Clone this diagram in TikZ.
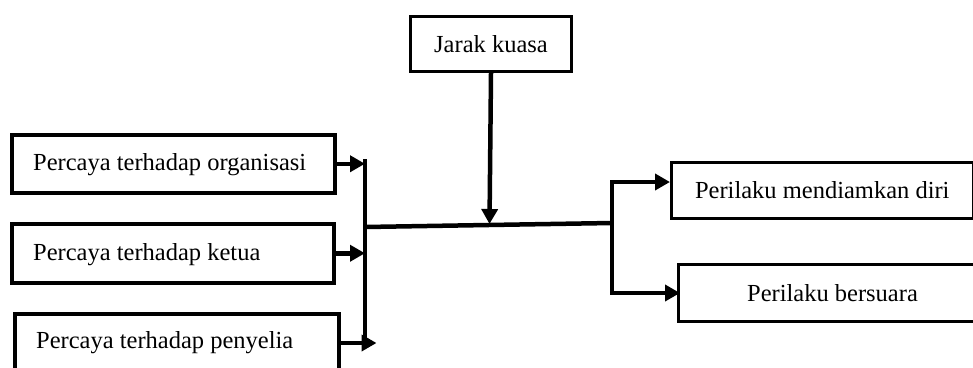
\documentclass[tikz,border=0pt]{standalone}
\usepackage{fontspec}
\setmainfont{Liberation Serif}
\usetikzlibrary{arrows.meta}
\begin{document}
\begin{tikzpicture}[x=1pt,y=-1pt,
  txt/.style={font=\fontsize{24.5}{28}\selectfont, inner sep=0pt},
  box/.style={draw=black, anchor=north west, inner sep=0pt, txt},
  leftbox/.style={box, line width=3.5pt},
  rightbox/.style={box, line width=2.5pt, align=center},
  conn/.style={line width=4.5pt, draw=black},
  tip/.style={-{Triangle[length=15pt,width=16pt]}}
]
\useasboundingbox (0,0) rectangle (973,367);

% independent variables (frames, then left-aligned labels)
\node[leftbox, minimum width=323pt, minimum height=58pt] (b1) at (10,133) {};
\node[leftbox, minimum width=322pt, minimum height=59pt] (b2) at (10,222) {};
\node[leftbox, minimum width=324pt, minimum height=56pt] (b3) at (13,312) {};
\node[txt, anchor=west] (t1) at ([xshift=23pt,yshift=-1pt]b1.west) {Percaya terhadap organisasi};
\node[txt, anchor=west] (t2) at ([xshift=23pt,yshift=-1pt]b2.west) {Percaya terhadap ketua};
\node[txt, anchor=west] (t3) at ([xshift=23pt,yshift=-1pt]b3.west) {Percaya terhadap penyelia};

% moderator
\node[rightbox, line width=3pt, minimum width=161pt, minimum height=55pt] (jk) at (409,15) {Jarak kuasa};

% outcomes
\node[rightbox, minimum width=302pt, minimum height=56pt] (ya) at (670,161) {Perilaku mendiamkan diri};
\node[rightbox, line width=3pt, minimum width=308pt, minimum height=57pt] (yb) at (677,263) {Perilaku bersuara};

% junction points
\coordinate (bartop) at (365,159);
\coordinate (barbot) at (365,343);
\coordinate (hl) at (365,227);
\coordinate (hr) at (612,223);
\coordinate (mid) at (489.5,224);
\coordinate (r1) at (612,182);
\coordinate (r2) at (612,293);

% collecting bar on the left
\draw[conn] (bartop) -- (barbot);
\draw[conn, tip] (b1.east) -- (b1.east -| bartop);
\draw[conn, tip] (b2.east) -- (b2.east -| bartop);
\draw[conn, tip] (b3.east |- barbot) -- ++(36,0);

% main line and moderator arrow
\draw[conn] (hl) -- (hr);
\draw[conn, tip] (jk.south) -- (mid);

% branch to the outcomes
\draw[conn, {Triangle[length=15pt,width=16pt]}-{Triangle[length=15pt,width=16pt]}]
  (r1 -| ya.west) -- (r1) -- (r2) -- ([xshift=3pt]r2 -| yb.west);
\end{tikzpicture}
\end{document}
